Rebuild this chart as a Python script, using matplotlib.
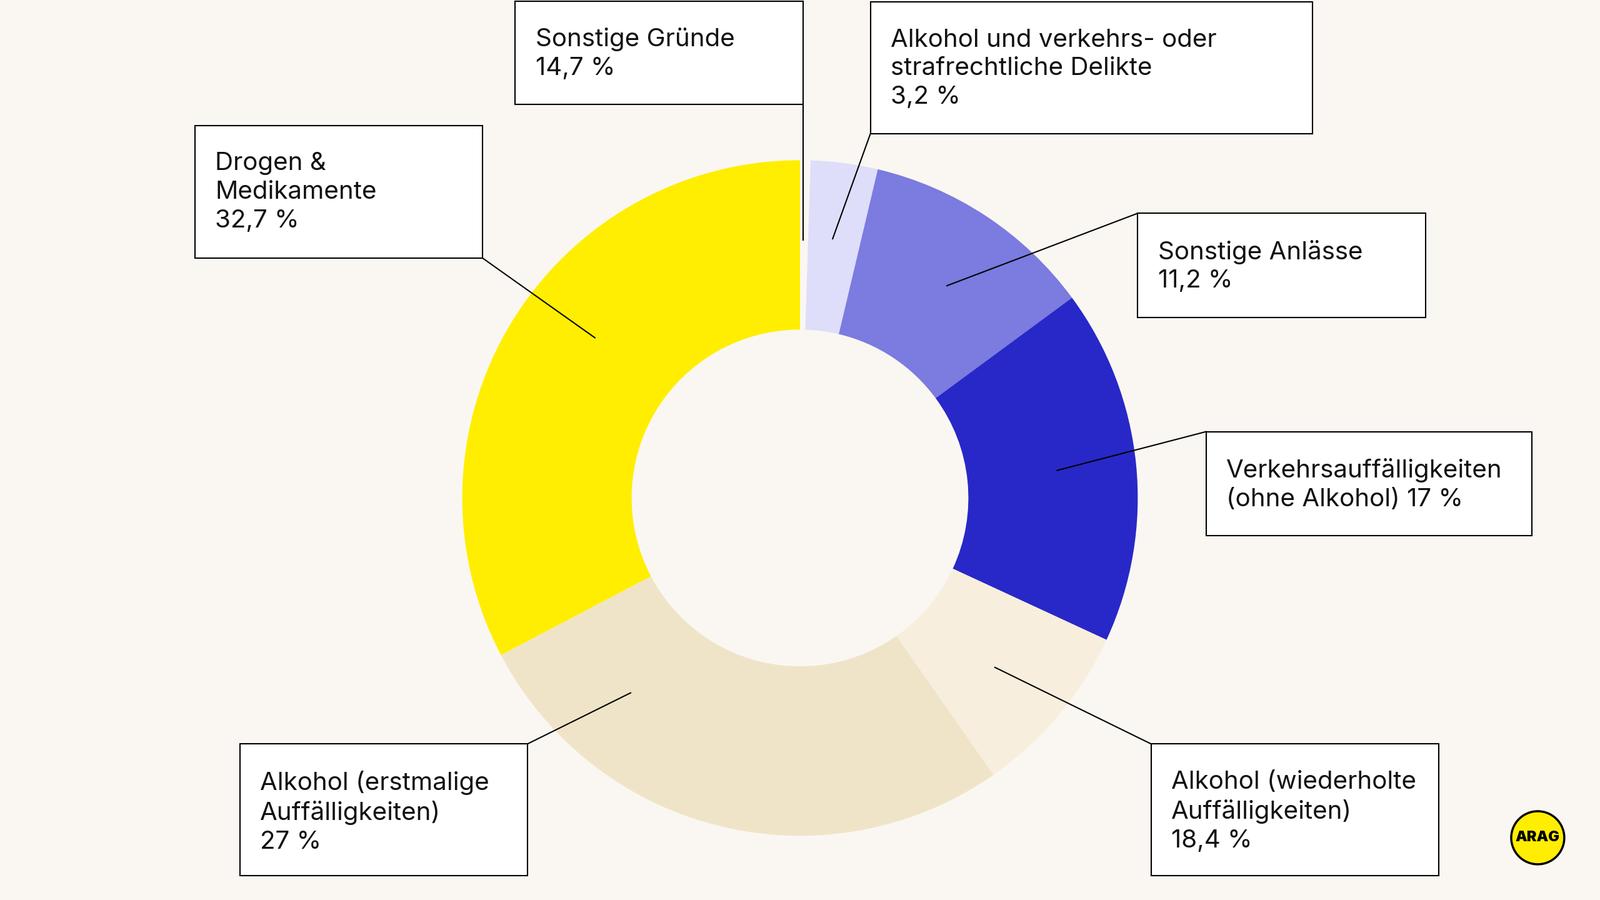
import matplotlib
matplotlib.use("Agg")
import matplotlib.pyplot as plt
from matplotlib.patches import Rectangle, Circle

# Data (slice shares, clockwise from top)
slice_names = ["Sonstige Gründe", "Alkohol und verkehrs- oder strafrechtliche Delikte",
               "Sonstige Anlässe", "Verkehrsauffälligkeiten (ohne Alkohol)",
               "Alkohol (wiederholte Auffälligkeiten)", "Alkohol (erstmalige Auffälligkeiten)",
               "Drogen & Medikamente"]
slice_values = [0.5, 3.2, 11.2, 17.0, 8.4, 27.0, 32.7]
slice_colors = ["#FAF7F2", "#DEDEFA", "#7B7BE0", "#2828C8", "#F7EEDD", "#F0E4C8", "#FFEE00"]
label_texts = ["Sonstige Gründe\n14,7 %",
               "Alkohol und verkehrs- oder\nstrafrechtliche Delikte\n3,2 %",
               "Sonstige Anlässe\n11,2 %",
               "Verkehrsauffälligkeiten\n(ohne Alkohol) 17 %",
               "Alkohol (wiederholte\nAuffälligkeiten)\n18,4 %",
               "Alkohol (erstmalige\nAuffälligkeiten)\n27 %",
               "Drogen &\nMedikamente\n32,7 %"]

# Layout (reference pixel space, y measured from top)
W, H = 1568, 882
boxes = [(505, 1, 787, 102), (853, 2, 1286, 131), (1115, 209, 1397, 311),
         (1182, 423, 1501, 525), (1128, 729, 1410, 858), (235, 729, 517, 858),
         (191, 123, 473, 253)]
leaders = [((787, 102), (787, 235)), ((853, 131), (816, 234)), ((1115, 209), (928, 280)),
           ((1182, 423), (1036, 461)), ((1128, 729), (975, 654)), ((517, 729), (618, 679)),
           ((473, 253), (583, 331))]

bg = "#FAF7F2"
fig = plt.figure(figsize=(25.6, 14.4), dpi=100, facecolor=bg)
ax = fig.add_axes([0, 0, 1, 1])
ax.set_facecolor(bg)

def Y(y): return H - y

ax.pie(slice_values, colors=slice_colors, startangle=90, counterclock=False,
       center=(784, Y(488)), radius=331, frame=True,
       wedgeprops=dict(width=166, linewidth=0))
ax.set_xlim(0, W); ax.set_ylim(0, H); ax.set_aspect("equal"); ax.axis("off")

for (x0, y0, x1, y1), txt, ((lx0, ly0), (lx1, ly1)) in zip(boxes, label_texts, leaders):
    ax.plot([lx0, lx1], [Y(ly0), Y(ly1)], color="black", lw=1.5, zorder=3)
    ax.add_patch(Rectangle((x0, Y(y1)), x1 - x0, y1 - y0, facecolor="white",
                           edgecolor="black", lw=1.5, zorder=4))
    ax.text(x0 + 20, Y(y0 + 26), txt, fontsize=29, family="Inter", va="top", ha="left",
            linespacing=1.3, zorder=5, color="#111111")

ax.add_patch(Circle((1507, Y(821)), 26, facecolor="#FFEE00", edgecolor="black", lw=2.5, zorder=5))
ax.text(1507, Y(821), "ARAG", fontsize=17, fontweight="black", family="Inter",
        ha="center", va="center", zorder=6)

fig.savefig("out.png", dpi=100, facecolor=bg)
